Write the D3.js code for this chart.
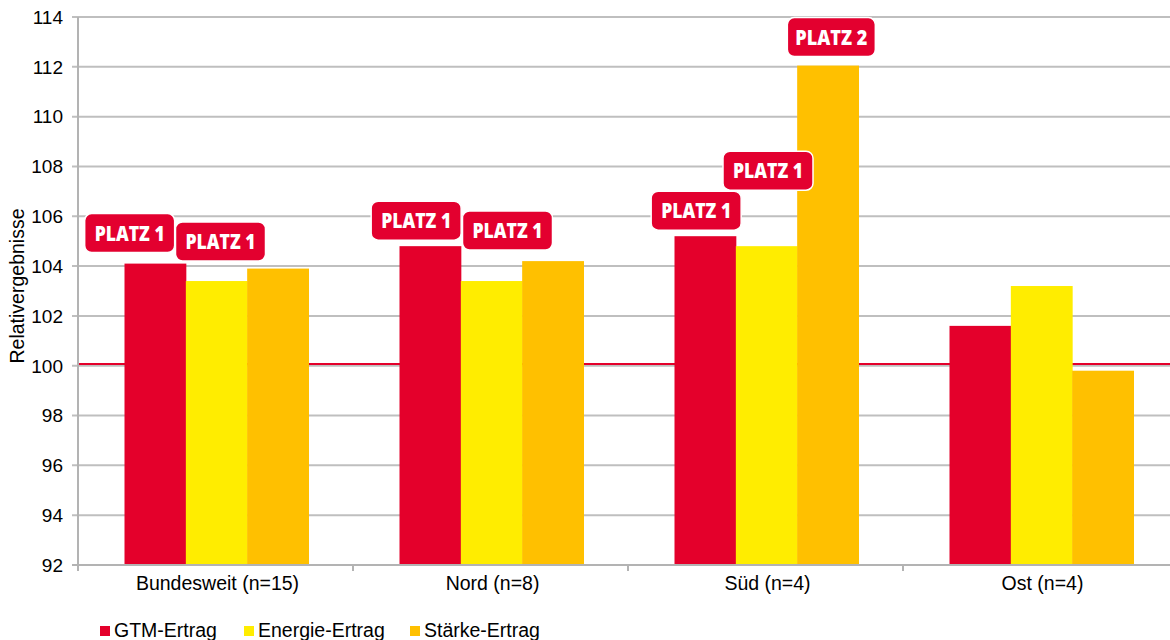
<!DOCTYPE html>
<html>
<head>
<meta charset="utf-8">
<script src="https://cdn.jsdelivr.net/npm/d3@7"></script>
<style>
  body { margin: 0; background: #fff; }
  svg { display: block; font-family: "Liberation Sans", Arial, sans-serif; }
</style>
</head>
<body>
<div class="chart"></div>
<script>
// data
const regions = ["Bundesweit (n=15)", "Nord (n=8)", "Süd (n=4)", "Ost (n=4)"];
const seriesNames = ["GTM-Ertrag", "Energie-Ertrag", "Stärke-Ertrag"];
const gtm = [104.1, 104.8, 105.2, 101.6];
const energie = [103.4, 103.4, 104.8, 103.2];
const staerke = [103.9, 104.2, 112.05, 99.8];
const yTicks = [92, 94, 96, 98, 100, 102, 104, 106, 108, 110, 112, 114];
const refValue = 100.07;
// rank badges: region index, series index, text
const badges = [
    [0, 0, "PLATZ 1"], [0, 1, "PLATZ 1"],
    [1, 0, "PLATZ 1"], [1, 1, "PLATZ 1"],
    [2, 0, "PLATZ 1"], [2, 1, "PLATZ 1"], [2, 2, "PLATZ 2"]
];

const width = 1170, height = 640;
const colors = ["#e4002b", "#ffed00", "#ffc000"];
const badgeColor = "#e3002f";

const svg = d3.select(".chart").append("svg")
    .attr("width", width).attr("height", height)
    .attr("viewBox", [0, 0, width, height]);

const rows = regions.map((r, i) => ({region: r, values: [gtm[i], energie[i], staerke[i]]}));

// scales (plot runs past the right edge, like the original)
const x = d3.scaleBand().domain(regions).range([78, 1178]).padding(0);
const xs = d3.scaleBand().domain(d3.range(3))
    .range([(x.bandwidth() - 184) / 2 + 1, (x.bandwidth() + 184) / 2 + 1]).padding(0);
const y = d3.scaleLinear().domain([92, 114]).range([565, 17]);

// gridlines
svg.append("g")
    .selectAll("line")
    .data(yTicks)
    .join("line")
    .attr("x1", 72).attr("x2", width)
    .attr("y1", d => y(d)).attr("y2", d => y(d))
    .attr("stroke", "#bfbfbf").attr("stroke-width", 2);

// y axis labels
svg.append("g")
    .selectAll("text")
    .data(yTicks)
    .join("text")
    .attr("x", 63).attr("y", d => y(d))
    .attr("dy", "0.36em")
    .attr("text-anchor", "end")
    .attr("font-size", 19)
    .attr("fill", "#000")
    .text(d => d);

// red reference line
svg.append("line")
    .attr("x1", 79).attr("x2", width)
    .attr("y1", y(refValue)).attr("y2", y(refValue))
    .attr("stroke", "#e4002b").attr("stroke-width", 2);

// bars
svg.append("g")
    .selectAll("g")
    .data(rows)
    .join("g")
    .attr("transform", d => `translate(${x(d.region)},0)`)
    .selectAll("rect")
    .data(d => d.values)
    .join("rect")
    .attr("x", (d, i) => xs(i))
    .attr("width", xs.bandwidth() + 0.5)
    .attr("y", d => y(d))
    .attr("height", d => y(92) - y(d))
    .attr("fill", (d, i) => colors[i]);

// axes lines
svg.append("line")
    .attr("x1", 78).attr("x2", 78).attr("y1", 17).attr("y2", 566)
    .attr("stroke", "#b3b3b3").attr("stroke-width", 2);
svg.append("line")
    .attr("x1", 72).attr("x2", width).attr("y1", y(92)).attr("y2", y(92))
    .attr("stroke", "#b3b3b3").attr("stroke-width", 2);

// x ticks
svg.append("g")
    .selectAll("line")
    .data(regions.concat(["end"]))
    .join("line")
    .attr("x1", (d, i) => 78 + i * x.bandwidth())
    .attr("x2", (d, i) => 78 + i * x.bandwidth())
    .attr("y1", y(92)).attr("y2", y(92) + 6)
    .attr("stroke", "#b3b3b3").attr("stroke-width", 2);

svg.append("g")
    .selectAll("text")
    .data(regions)
    .join("text")
    .attr("x", d => x(d) + x.bandwidth() / 2 + 2)
    .attr("y", 590)
    .attr("text-anchor", "middle")
    .attr("font-size", 19.5)
    .text(d => d);

// y title
svg.append("text")
    .attr("transform", "translate(24,286) rotate(-90)")
    .attr("text-anchor", "middle")
    .attr("font-size", 19.5)
    .text("Relativergebnisse");

// badges - hand nudges relative to bar top/center, like the original slide
const nudge = [[-25.5, -11], [4, -20], [-14, -6], [16, -31], [-9, -6], [1.5, -56], [3.5, -9]];
const bh = 39;
const badgeG = svg.append("g")
    .selectAll("g")
    .data(badges)
    .join("g")
    .attr("transform", (d, i) => {
        const cx = x(regions[d[0]]) + xs(d[1]) + xs.bandwidth() / 2 + nudge[i][0];
        const bottom = y(rows[d[0]].values[d[1]]) + nudge[i][1];
        return `translate(${cx},${bottom - bh / 2})`;
    });

badgeG.append("rect")
    .attr("x", d => d[2] === "PLATZ 2" ? -44 : -45)
    .attr("width", d => d[2] === "PLATZ 2" ? 88 : 90)
    .attr("y", -bh / 2).attr("height", bh)
    .attr("rx", 7)
    .attr("fill", badgeColor)
    .attr("stroke", "#fff").attr("stroke-width", 1.5);

badgeG.append("text")
    .attr("text-anchor", "middle")
    .attr("y", 7.5)
    .attr("font-family", "'Open Sans', 'DejaVu Sans', sans-serif")
    .attr("font-weight", 800)
    .attr("font-size", 21)
    .attr("fill", "#fff")
    .attr("textLength", d => d[2] === "PLATZ 2" ? 72 : 70)
    .attr("lengthAdjust", "spacingAndGlyphs")
    .text(d => d[2]);

// legend
const legendX = [100, 244, 410];
const legend = svg.append("g")
    .selectAll("g")
    .data(seriesNames)
    .join("g")
    .attr("transform", (d, i) => `translate(${legendX[i]},626)`);
legend.append("rect")
    .attr("width", 10).attr("height", 10)
    .attr("fill", (d, i) => colors[i]);
legend.append("text")
    .attr("x", 14).attr("y", 11)
    .attr("font-size", 19.5)
    .text(d => d);
</script>
</body>
</html>
